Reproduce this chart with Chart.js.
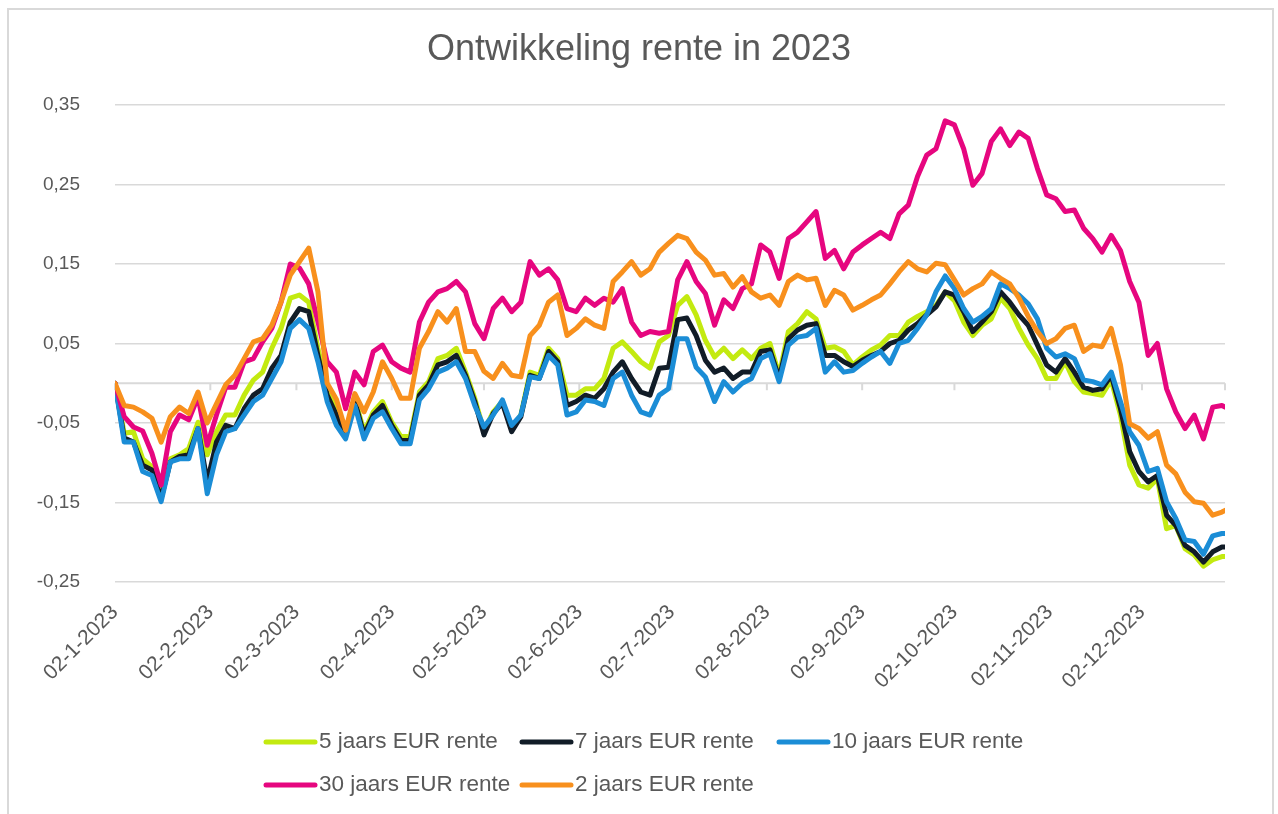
<!DOCTYPE html>
<html>
<head>
<meta charset="utf-8">
<title>Ontwikkeling rente in 2023</title>
<script src="https://cdn.jsdelivr.net/npm/chart.js@4.4.1/dist/chart.umd.min.js"></script>
<style>
  html, body { margin: 0; padding: 0; background: #fff; overflow: hidden; }
  #rand { position: absolute; left: 7px; top: 8px; width: 1267px; height: 830px; border: 2px solid #d9d9d9; box-sizing: border-box; }
  #charts { position: absolute; left: 0; top: 0; width: 1278px; height: 814px; }
</style>
</head>
<body>
<div id="rand"></div>
<div id="charts"><canvas id="rente-chart"></canvas></div>
<script>
// dagen na 02-1-2023
const dagen = [0, 3, 6, 9, 12, 15, 18, 21, 24, 27, 30, 33, 36, 39, 42, 45, 48, 51, 54, 57, 60,
  63, 66, 69, 72, 75, 78, 81, 84, 87, 90, 93, 96, 99, 102, 105, 108, 111, 114, 117, 120,
  123, 126, 129, 132, 135, 138, 141, 144, 147, 150, 153, 156, 159, 162, 165, 168, 171, 174, 177, 180,
  183, 186, 189, 192, 195, 198, 201, 204, 207, 210, 213, 216, 219, 222, 225, 228, 231, 234, 237, 240,
  243, 246, 249, 252, 255, 258, 261, 264, 267, 270, 273, 276, 279, 282, 285, 288, 291, 294, 297, 300,
  303, 306, 309, 312, 315, 318, 321, 324, 327, 330, 333, 336, 339, 342, 345, 348, 351, 354, 357, 360, 361];

const maandDagen = [0, 31, 59, 90, 120, 151, 181, 212, 243, 273, 304, 334];
const maandLabels = ["02-1-2023", "02-2-2023", "02-3-2023", "02-4-2023", "02-5-2023", "02-6-2023",
  "02-7-2023", "02-8-2023", "02-9-2023", "02-10-2023", "02-11-2023", "02-12-2023"];

const reeksNamen = ["5 jaars EUR rente", "7 jaars EUR rente", "10 jaars EUR rente", "30 jaars EUR rente", "2 jaars EUR rente"];

const rente5 = [0.000, -0.063, -0.061, -0.095, -0.105, -0.132, -0.095, -0.090, -0.082, -0.049, -0.090, -0.061, -0.040, -0.040, -0.015, 0.004, 0.014, 0.044, 0.069, 0.107, 0.111,
  0.102, 0.044, -0.007, -0.032, -0.061, -0.019, -0.061, -0.036, -0.023, -0.049, -0.067, -0.067, -0.011, 0.002, 0.031, 0.035, 0.044, 0.014, -0.019, -0.060,
  -0.036, -0.023, -0.057, -0.040, 0.014, 0.010, 0.044, 0.031, -0.015, -0.015, -0.007, -0.007, 0.006, 0.044, 0.052, 0.040, 0.027, 0.019, 0.052, 0.060,
  0.098, 0.109, 0.086, 0.054, 0.033, 0.044, 0.031, 0.042, 0.031, 0.044, 0.050, 0.010, 0.065, 0.075, 0.090, 0.081, 0.044, 0.046, 0.040, 0.023,
  0.033, 0.042, 0.048, 0.060, 0.060, 0.077, 0.084, 0.090, 0.098, 0.115, 0.104, 0.077, 0.060, 0.073, 0.081, 0.107, 0.094, 0.069, 0.048, 0.031,
  0.006, 0.006, 0.027, 0.002, -0.011, -0.013, -0.015, 0.004, -0.040, -0.103, -0.128, -0.132, -0.120, -0.183, -0.179, -0.208, -0.216, -0.230, -0.222, -0.218, -0.218];

const rente7 = [0.000, -0.069, -0.074, -0.103, -0.109, -0.145, -0.099, -0.092, -0.090, -0.057, -0.124, -0.074, -0.053, -0.057, -0.032, -0.015, -0.007, 0.019, 0.035, 0.077, 0.094,
  0.090, 0.035, -0.015, -0.040, -0.065, -0.023, -0.065, -0.040, -0.028, -0.053, -0.072, -0.072, -0.015, -0.002, 0.023, 0.027, 0.035, 0.010, -0.023, -0.065,
  -0.038, -0.025, -0.061, -0.042, 0.010, 0.006, 0.040, 0.027, -0.028, -0.023, -0.015, -0.019, -0.007, 0.014, 0.027, 0.006, -0.011, -0.015, 0.019, 0.020,
  0.080, 0.082, 0.060, 0.029, 0.014, 0.019, 0.006, 0.014, 0.014, 0.040, 0.042, 0.006, 0.056, 0.067, 0.073, 0.075, 0.035, 0.035, 0.027, 0.021,
  0.029, 0.035, 0.040, 0.050, 0.054, 0.067, 0.075, 0.086, 0.096, 0.115, 0.111, 0.090, 0.065, 0.077, 0.090, 0.115, 0.102, 0.086, 0.073, 0.048,
  0.023, 0.014, 0.031, 0.014, -0.005, -0.009, -0.007, 0.010, -0.032, -0.086, -0.111, -0.124, -0.116, -0.166, -0.179, -0.204, -0.212, -0.225, -0.212, -0.206, -0.206];

const rente10 = [0.000, -0.074, -0.074, -0.111, -0.116, -0.149, -0.099, -0.095, -0.095, -0.057, -0.139, -0.090, -0.061, -0.057, -0.040, -0.023, -0.015, 0.006, 0.027, 0.069, 0.080,
  0.069, 0.027, -0.023, -0.053, -0.070, -0.028, -0.070, -0.044, -0.036, -0.057, -0.076, -0.076, -0.021, -0.007, 0.014, 0.019, 0.027, 0.006, -0.028, -0.055,
  -0.040, -0.021, -0.053, -0.040, 0.008, 0.006, 0.035, 0.023, -0.040, -0.036, -0.021, -0.023, -0.028, 0.006, 0.014, -0.015, -0.036, -0.040, -0.015, -0.007,
  0.056, 0.056, 0.020, 0.008, -0.023, 0.002, -0.011, 0.000, 0.006, 0.031, 0.037, 0.002, 0.048, 0.058, 0.060, 0.069, 0.014, 0.027, 0.014, 0.016,
  0.025, 0.033, 0.040, 0.025, 0.050, 0.054, 0.069, 0.086, 0.115, 0.135, 0.119, 0.094, 0.077, 0.084, 0.094, 0.125, 0.119, 0.111, 0.100, 0.081,
  0.044, 0.033, 0.037, 0.031, 0.004, 0.002, -0.002, 0.014, -0.023, -0.061, -0.078, -0.111, -0.107, -0.149, -0.170, -0.197, -0.199, -0.215, -0.192, -0.189, -0.189];

const rente30 = [0.000, -0.042, -0.055, -0.060, -0.088, -0.128, -0.061, -0.040, -0.046, -0.017, -0.078, -0.040, -0.005, -0.005, 0.027, 0.031, 0.052, 0.069, 0.102, 0.150, 0.145,
  0.125, 0.077, 0.027, 0.014, -0.032, 0.014, -0.002, 0.040, 0.048, 0.027, 0.019, 0.014, 0.077, 0.102, 0.115, 0.119, 0.128, 0.115, 0.075, 0.056,
  0.094, 0.107, 0.090, 0.102, 0.153, 0.136, 0.144, 0.130, 0.094, 0.090, 0.107, 0.098, 0.107, 0.102, 0.119, 0.077, 0.060, 0.065, 0.063, 0.065,
  0.130, 0.153, 0.128, 0.113, 0.073, 0.105, 0.094, 0.119, 0.125, 0.174, 0.165, 0.132, 0.182, 0.190, 0.203, 0.216, 0.157, 0.167, 0.144, 0.165,
  0.174, 0.182, 0.190, 0.182, 0.213, 0.224, 0.260, 0.287, 0.295, 0.330, 0.325, 0.295, 0.249, 0.264, 0.304, 0.320, 0.299, 0.316, 0.308, 0.270,
  0.237, 0.232, 0.216, 0.218, 0.195, 0.182, 0.165, 0.186, 0.167, 0.128, 0.102, 0.035, 0.050, -0.007, -0.036, -0.057, -0.040, -0.070, -0.030, -0.028, -0.030];

const rente2 = [0.000, -0.028, -0.030, -0.036, -0.044, -0.074, -0.042, -0.030, -0.038, -0.011, -0.050, -0.026, -0.002, 0.010, 0.031, 0.052, 0.056, 0.073, 0.102, 0.136, 0.153,
  0.170, 0.115, 0.000, -0.020, -0.059, -0.013, -0.036, -0.011, 0.027, 0.006, -0.019, -0.019, 0.044, 0.065, 0.090, 0.077, 0.094, 0.040, 0.040, 0.015,
  0.006, 0.025, 0.010, 0.008, 0.060, 0.073, 0.102, 0.111, 0.060, 0.069, 0.081, 0.073, 0.069, 0.128, 0.140, 0.153, 0.136, 0.144, 0.165, 0.176,
  0.186, 0.182, 0.165, 0.155, 0.136, 0.138, 0.121, 0.134, 0.115, 0.107, 0.111, 0.098, 0.128, 0.136, 0.130, 0.132, 0.098, 0.117, 0.111, 0.092,
  0.098, 0.105, 0.111, 0.125, 0.140, 0.153, 0.144, 0.140, 0.151, 0.149, 0.130, 0.111, 0.119, 0.125, 0.140, 0.132, 0.125, 0.107, 0.084, 0.065,
  0.050, 0.056, 0.069, 0.073, 0.040, 0.048, 0.046, 0.069, 0.023, -0.051, -0.057, -0.069, -0.061, -0.103, -0.114, -0.137, -0.149, -0.151, -0.166, -0.162, -0.160];

const reeksen = [rente5, rente7, rente10, rente30, rente2];
const kleuren = ["#c3ea10", "#111c27", "#1b8dd6", "#e6067f", "#f8901d"];

Chart.defaults.font.family = "'Liberation Sans', Arial, sans-serif";
Chart.defaults.color = "#595959";

// horizontale as op 0 met streepjes, zoals in Excel
const nulLijn = {
  id: "nulLijn",
  beforeDatasetsDraw(chart) {
    const { ctx, chartArea, scales } = chart;
    const y0 = scales.y.getPixelForValue(0);
    ctx.save();
    ctx.strokeStyle = "#d9d9d9";
    ctx.lineWidth = 2;
    ctx.beginPath();
    ctx.moveTo(chartArea.left, y0);
    ctx.lineTo(chartArea.right, y0);
    scales.x.ticks.forEach((t) => {
      const px = scales.x.getPixelForValue(t.value);
      ctx.moveTo(px, y0);
      ctx.lineTo(px, y0 + 7);
    });
    ctx.moveTo(chartArea.right, y0);
    ctx.lineTo(chartArea.right, y0 + 7);
    ctx.stroke();
    ctx.restore();
  },
};

// legenda in twee rijen met vaste kolommen
const legenda = {
  id: "legenda",
  afterDraw(chart) {
    const ctx = chart.ctx;
    const kolommen = [263, 519, 776];
    const rijen = [742, 785];
    chart.data.datasets.forEach((ds, i) => {
      const x = kolommen[i % 3];
      const y = rijen[Math.floor(i / 3)];
      ctx.save();
      ctx.strokeStyle = ds.borderColor;
      ctx.lineWidth = 5;
      ctx.lineCap = "round";
      ctx.beginPath();
      ctx.moveTo(x + 3, y);
      ctx.lineTo(x + 52, y);
      ctx.stroke();
      ctx.fillStyle = "#595959";
      ctx.font = "22.5px 'Liberation Sans', Arial, sans-serif";
      ctx.textBaseline = "middle";
      ctx.fillText(ds.label, x + 56, y);
      ctx.restore();
    });
  },
};

new Chart(document.getElementById("rente-chart"), {
  type: "line",
  data: {
    datasets: reeksen.map((reeks, i) => ({
      label: reeksNamen[i],
      data: dagen.map((d, j) => ({ x: d, y: reeks[j] })),
      borderColor: kleuren[i],
      backgroundColor: kleuren[i],
      borderWidth: 5,
      borderJoinStyle: "round",
      borderCapStyle: "round",
      pointRadius: 0,
      tension: 0,
      order: reeksen.length - i,
    })),
  },
  options: {
    responsive: true,
    maintainAspectRatio: false,
    animation: false,
    devicePixelRatio: 1,
    layout: { padding: 0 },
    plugins: {
      legend: { display: false },
      tooltip: { enabled: false },
      title: {
        display: true,
        text: "Ontwikkeling rente in 2023",
        color: "#595959",
        font: { size: 36, weight: "normal", lineHeight: 1.2 },
        padding: { top: 28, bottom: 33.8 },
      },
    },
    scales: {
      x: {
        type: "linear",
        min: 0,
        max: 361,
        afterBuildTicks: (scale) => {
          scale.ticks = maandDagen.map((v) => ({ value: v }));
        },
        afterFit: (scale) => {
          scale.height = 232;
        },
        ticks: {
          autoSkip: false,
          minRotation: 45,
          maxRotation: 45,
          padding: 10,
          font: { size: 21 },
          color: "#595959",
          callback: (value, index) => maandLabels[index],
        },
        grid: { display: false },
        border: { display: false },
      },
      y: {
        min: -0.25,
        max: 0.35,
        afterFit: (scale) => {
          scale.width = 115;
        },
        ticks: {
          stepSize: 0.1,
          padding: 35,
          font: { size: 19 },
          color: "#595959",
          callback: (value) => value.toFixed(2).replace(".", ","),
        },
        grid: { color: "#d9d9d9", lineWidth: 1.5, drawTicks: false },
        border: { display: false },
      },
      // lege ruimte rechts, zodat de titel over de hele breedte gecentreerd blijft
      rechts: {
        type: "linear",
        position: "right",
        afterFit: (scale) => {
          scale.width = 53;
        },
        ticks: { display: false },
        grid: { display: false },
        border: { display: false },
      },
    },
  },
  plugins: [nulLijn, legenda],
});
</script>
</body>
</html>
